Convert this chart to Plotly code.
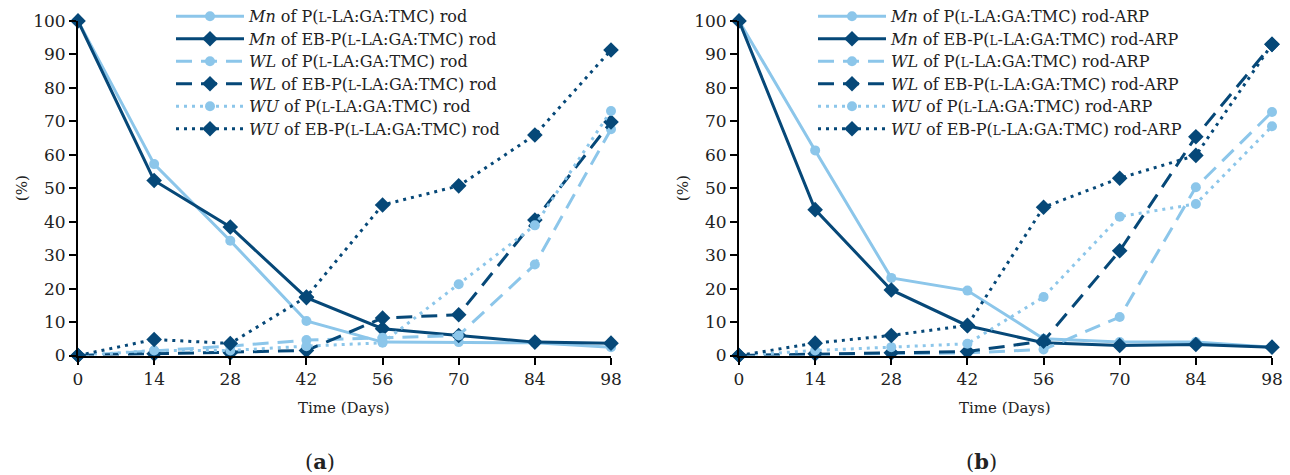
import plotly.graph_objects as go

days = [0, 14, 28, 42, 56, 70, 84, 98]

# Panel (a)
a_mn_p = [100, 57.2, 34.3, 10.3, 4.0, 4.0, 3.8, 2.5]
a_mn_eb = [100, 52.3, 38.4, 17.3, 8.0, 6.0, 4.0, 3.7]
a_wl_p = [0, 1.5, 2.8, 4.6, 5.3, 6.0, 27.2, 67.6]
a_wl_eb = [0, 0.5, 0.8, 1.5, 11.2, 12.2, 40.5, 69.8]
a_wu_p = [0, 1.5, 1.5, 2.8, 3.8, 21.3, 38.9, 73.1]
a_wu_eb = [0, 4.8, 3.6, 17.5, 45.0, 50.7, 65.9, 91.3]

# Panel (b)
b_mn_p = [100, 61.3, 23.2, 19.4, 5.0, 4.0, 4.0, 2.5]
b_mn_eb = [100, 43.6, 19.6, 8.9, 3.8, 3.0, 3.3, 2.5]
b_wl_p = [0, 0.3, 0.5, 0.8, 1.8, 11.5, 50.3, 72.8]
b_wl_eb = [0, 0.5, 0.8, 1.2, 4.3, 31.3, 65.4, 93.0]
b_wu_p = [0, 1.5, 2.5, 3.5, 17.5, 41.5, 45.3, 68.5]
b_wu_eb = [0, 3.7, 6.0, 9.0, 44.3, 53.0, 59.8, 93.0]

x_ticks = days
y_ticks = list(range(0, 101, 10))

LIGHT = "#8cc6ea"
DARK = "#064878"
FONT = "DejaVu Serif"
TXT = "#222"
SC_L = '<span style="font-size:12px">L</span>'
BASE_P = "P(" + SC_L + "-LA:GA:TMC) rod"
BASE_EB = "EB-P(" + SC_L + "-LA:GA:TMC) rod"

fig = go.Figure()

def add_series(panel, vals, prop, eb, dash, legend, suffix):
    color = DARK if eb else LIGHT
    symbol = "diamond" if eb else "circle"
    size = 12 if eb else 10
    name = ('<span style="font-size:16px"><i>' + prop + "</i> of "
            + (BASE_EB if eb else BASE_P) + suffix + "</span>")
    fig.add_trace(go.Scatter(
        x=days, y=vals, mode="lines+markers", name=name,
        line=dict(color=color, width=3, dash=dash),
        marker=dict(symbol=symbol, size=size, color=color),
        xaxis="x" if panel == 1 else "x2", yaxis="y" if panel == 1 else "y2",
        legend=legend, cliponaxis=False,
    ))

DASH = "16px,9px"
DOT = "3px,5px"
for panel, data, leg, suf in [
    (1, [a_mn_p, a_mn_eb, a_wl_p, a_wl_eb, a_wu_p, a_wu_eb], "legend", ""),
    (2, [b_mn_p, b_mn_eb, b_wl_p, b_wl_eb, b_wu_p, b_wu_eb], "legend2", "-ARP"),
]:
    add_series(panel, data[0], "Mn", False, "solid", leg, suf)
    add_series(panel, data[1], "Mn", True, "solid", leg, suf)
    add_series(panel, data[2], "WL", False, DASH, leg, suf)
    add_series(panel, data[3], "WL", True, DASH, leg, suf)
    add_series(panel, data[4], "WU", False, DOT, leg, suf)
    add_series(panel, data[5], "WU", True, DOT, leg, suf)

W, H = 1290, 475
y_dom = [(H - 355) / H, (H - 19) / H]
x1_dom = [78 / W, 611 / W]
x2_dom = [739 / W, 1272 / W]

xaxis_common = dict(
    range=[0, 98], tickvals=x_ticks, ticks="outside", ticklen=7, tickwidth=1.5,
    tickcolor="black", showline=True, linecolor="black", linewidth=2,
    showgrid=False, zeroline=False, automargin=False,
    tickfont=dict(family=FONT, size=17, color=TXT),
)
yaxis_common = dict(
    range=[0, 100], tickvals=y_ticks, ticks="outside", ticklen=7, tickwidth=1.5,
    tickcolor="black", showline=True, linecolor="black", linewidth=2,
    showgrid=False, zeroline=False, automargin=False,
    tickfont=dict(family=FONT, size=17, color=TXT),
)

legend_common = dict(
    font=dict(family=FONT, size=15, color=TXT), bgcolor="rgba(0,0,0,0)",
    itemwidth=68, tracegroupgap=0, yanchor="top", xanchor="left",
    itemclick=False,
)

def ann(text, x, y, size, angle=0):
    return dict(text=text, x=x / W, y=(H - y) / H, xref="paper", yref="paper",
                showarrow=False, textangle=angle, xanchor="center", yanchor="middle",
                font=dict(family=FONT, size=size, color=TXT))

fig.update_layout(
    width=W, height=H,
    margin=dict(l=0, r=0, t=0, b=0),
    paper_bgcolor="white", plot_bgcolor="white",
    showlegend=True,
    xaxis=dict(domain=x1_dom, anchor="y", **xaxis_common),
    yaxis=dict(domain=y_dom, anchor="x", **yaxis_common),
    xaxis2=dict(domain=x2_dom, anchor="y2", **xaxis_common),
    yaxis2=dict(domain=y_dom, anchor="x2", **yaxis_common),
    legend=dict(x=171 / W, y=1 + 2 / H, **legend_common),
    legend2=dict(x=813 / W, y=1 + 2 / H, **legend_common),
    annotations=[
        ann("Time (Days)", 344, 408, 15),
        ann("Time (Days)", 1005, 408, 15),
        ann("(%)", 22, 187, 15, -90),
        ann("(%)", 683, 187, 15, -90),
        ann("(<b>a</b>)", 320, 461, 21),
        ann("(<b>b</b>)", 981, 461, 21),
    ],
)

fig.write_html("out.html")
